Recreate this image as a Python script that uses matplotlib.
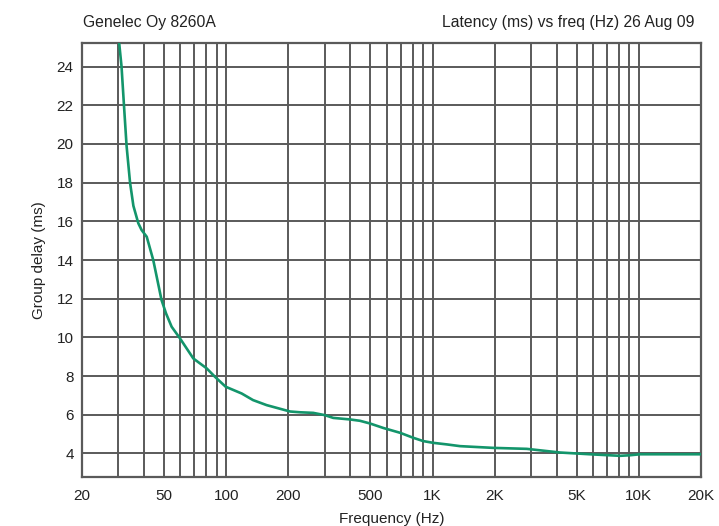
import numpy as np
import matplotlib
matplotlib.use("Agg")
import matplotlib.pyplot as plt
from matplotlib.ticker import FixedLocator, FixedFormatter, NullFormatter

# ===== data =====
freq_hz = [30.3, 31.1, 32.0, 32.9, 34.2, 35.5, 37.5, 38.9, 41.2, 44.3,
           48.6, 51.1, 54.4, 59.7, 69.3, 80.4, 88.3, 99.4, 118.9, 134.9,
           157, 204, 228, 264, 301, 330, 398, 445, 498, 577,
           696, 807, 902, 1009, 1172, 1359, 1971, 2861, 4150, 6018,
           8108, 9068, 10136, 20000]
delay_ms = [25.2, 24.0, 21.9, 19.9, 18.0, 16.8, 15.9, 15.55, 15.2, 14.0,
            11.93, 11.24, 10.55, 9.95, 8.91, 8.4, 7.96, 7.45, 7.1, 6.76,
            6.5, 6.17, 6.13, 6.10, 5.98, 5.84, 5.76, 5.69, 5.55, 5.32,
            5.07, 4.81, 4.64, 4.55, 4.47, 4.38, 4.29, 4.24, 4.05, 3.95,
            3.88, 3.91, 3.96, 3.96]

x_ticks = [20, 50, 100, 200, 500, 1000, 2000, 5000, 10000, 20000]
x_tick_labels = ["20", "50", "100", "200", "500", "1K", "2K", "5K", "10K", "20K"]
y_ticks = [4, 6, 8, 10, 12, 14, 16, 18, 20, 22, 24]

title_left = "Genelec Oy 8260A"
title_right = "Latency (ms) vs freq (Hz) 26 Aug 09"

# ===== style =====
plt.rcParams["font.family"] = ["Liberation Sans", "DejaVu Sans"]
GRID = "#5a5a5a"
TEXT = "#222222"
CURVE = "#13956b"

fig = plt.figure(figsize=(7.19, 5.26), dpi=100)
ax = fig.add_axes([0.114, 0.0937, 0.861, 0.824])

ax.set_xscale("log")
ax.set_xlim(20, 20000)
ax.set_ylim(2.8, 25.2)

# grid lines at every 1..9 step of each decade
minor = [m * d for d in (10, 100, 1000) for m in range(2, 10)] + [10000]
minor = [v for v in minor if 20 < v < 20000]
ax.xaxis.set_major_locator(FixedLocator(x_ticks))
ax.xaxis.set_major_formatter(FixedFormatter(x_tick_labels))
ax.xaxis.set_minor_locator(FixedLocator(minor))
ax.xaxis.set_minor_formatter(NullFormatter())
ax.set_yticks(y_ticks)

ax.grid(True, which="both", axis="x", color=GRID, linewidth=1.4)
ax.grid(True, which="major", axis="y", color=GRID, linewidth=1.4)
ax.set_axisbelow(True)

for s in ax.spines.values():
    s.set_color(GRID)
    s.set_linewidth(1.6)

ax.tick_params(which="both", length=0, labelsize=11, labelcolor=TEXT)
ax.tick_params(axis="x", pad=9)
ax.tick_params(axis="y", pad=6)

ax.plot(freq_hz, delay_ms, color=CURVE, linewidth=1.9,
        solid_joinstyle="round", solid_capstyle="round", zorder=3)

ax.set_xlabel("Frequency (Hz)", fontsize=11, color=TEXT, labelpad=6)
ax.set_ylabel("Group delay (ms)", fontsize=11, color=TEXT, labelpad=8)

fig.text(83 / 719, 1 - 27.5 / 526, title_left, fontsize=11.3, color=TEXT,
         ha="left", va="baseline")
fig.text(695 / 719, 1 - 27.5 / 526, title_right, fontsize=11.3, color=TEXT,
         ha="right", va="baseline")

fig.savefig("out.png", dpi=100, facecolor="white")
